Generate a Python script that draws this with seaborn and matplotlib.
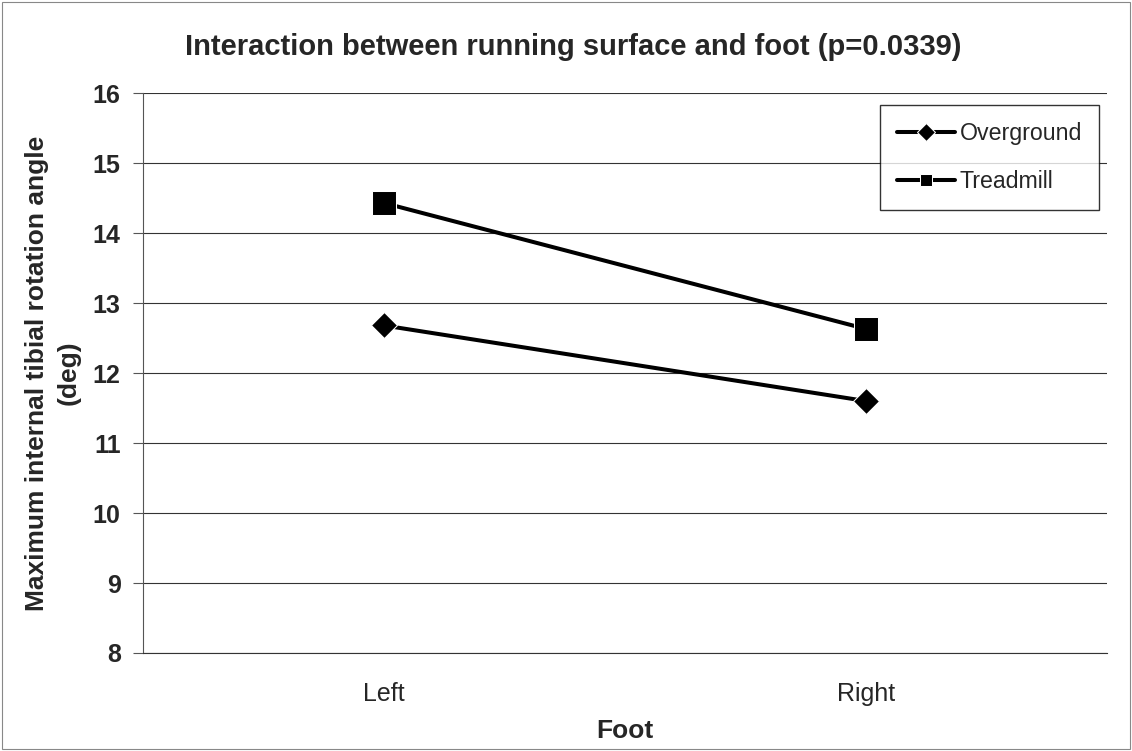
import matplotlib
matplotlib.use("Agg")
import matplotlib.pyplot as plt
import seaborn as sns
import pandas as pd

feet = ["Left", "Right"]
overground = [12.68, 11.60]
treadmill = [14.43, 12.63]
series_names = ["Overground", "Treadmill"]

sns.set_style("white")
plt.rcParams['font.family'] = ['Liberation Sans', 'DejaVu Sans']

df = pd.DataFrame({
    "Foot": feet * 2,
    "value": overground + treadmill,
    "Surface": [series_names[0]] * 2 + [series_names[1]] * 2,
})

fig = plt.figure(figsize=(11.32, 7.51), dpi=100)
ax = fig.add_axes([0.1263, 0.1305, 0.9780 - 0.1263, 0.876 - 0.1305])

sns.lineplot(data=df, x="Foot", y="value", hue="Surface", style="Surface",
             markers={"Overground": "D", "Treadmill": "s"}, dashes=False,
             palette={"Overground": "black", "Treadmill": "black"},
             linewidth=2.9, markersize=15, ax=ax, sort=False)

for ln in ax.lines:
    if ln.get_marker() == "D":
        ln.set_markersize(13.5)
    elif ln.get_marker() == "s":
        ln.set_markersize(17)

ax.set_xlim(-0.5, 1.5)
ax.set_ylim(8, 16)
ax.set_yticks(range(8, 17))
ax.set_xticks([0, 1])
ax.set_xticklabels(feet)
ax.set_xticks([-0.5, 0.5, 1.5], minor=True)
ax.tick_params(axis="x", which="major", length=0, pad=21, labelsize=18)
ax.tick_params(axis="x", which="minor", length=5, width=0.8, direction="out", color="#555555")
ax.tick_params(axis="y", length=7, width=0.8, direction="out", labelsize=18, color="#555555", pad=9, left=True)
for lab in ax.get_yticklabels():
    lab.set_fontweight("bold")

ax.grid(axis="y", color="#333333", linewidth=0.8)
ax.set_axisbelow(True)
for s in ["top", "right"]:
    ax.spines[s].set_visible(False)
ax.spines["left"].set_color("#555555")
ax.spines["bottom"].set_color("#333333")
ax.spines["left"].set_linewidth(0.8)
ax.spines["bottom"].set_linewidth(0.8)

ax.set_xlabel("Foot", fontsize=19, fontweight="bold", labelpad=9)
ax.set_ylabel("Maximum internal tibial rotation angle\n(deg)", fontsize=19,
              fontweight="bold", labelpad=9, linespacing=1.4)
fig.text(0.506, 0.9268, "Interaction between running surface and foot (p=0.0339)",
         ha="center", va="baseline", fontsize=21, fontweight="bold")

leg = ax.legend(loc="upper right", bbox_to_anchor=(0.992, 0.979), fontsize=16.7,
                frameon=True, fancybox=False, edgecolor="black", handlelength=2.5,
                labelspacing=1.05, borderpad=0.75, handletextpad=0.2,
                borderaxespad=0)
leg.get_frame().set_linewidth(1.0)
for h in leg.legend_handles:
    h.set_markersize(9)

fig.patches.append(plt.Rectangle((0.002, 0.002), 0.996, 0.996, transform=fig.transFigure,
                                 fill=False, edgecolor="#888888", linewidth=0.8))

fig.savefig("out.png", dpi=100)
